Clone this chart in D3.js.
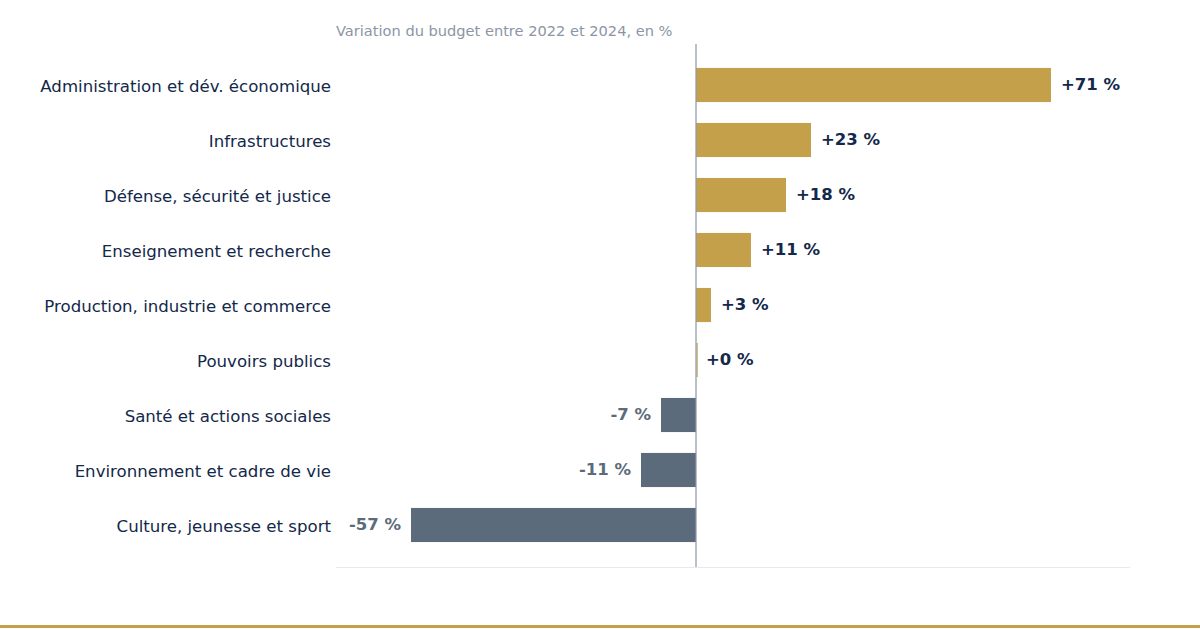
<!DOCTYPE html>
<html>
<head>
<meta charset="utf-8">
<title>Variation du budget</title>
<script src="https://cdn.jsdelivr.net/npm/d3@7"></script>
<style>
  body { margin: 0; background: #fff; }
  svg { display: block; font-family: "DejaVu Sans", sans-serif; }
</style>
</head>
<body>
<svg id="chart" width="1200" height="630"></svg>
<script>
    // data
    var categories = [
        'Administration et dév. économique',
        'Infrastructures',
        'Défense, sécurité et justice',
        'Enseignement et recherche',
        'Production, industrie et commerce',
        'Pouvoirs publics',
        'Santé et actions sociales',
        'Environnement et cadre de vie',
        'Culture, jeunesse et sport'
    ];
    var values = [71, 23, 18, 11, 3, 0, -7, -11, -57];
    var title = 'Variation du budget entre 2022 et 2024, en %';

    var svg = d3.select('#chart');
    var gold = '#c5a04a', slate = '#5c6b7b', navy = '#13284a';

    var x = d3.scaleLinear().domain([-72, 86.8]).range([336, 1130]);
    var y = d3.scaleBand().domain(categories)
        .range([57.5, 552.5]).paddingInner(0.38).paddingOuter(0.19);

    svg.append('text')
        .attr('x', 336).attr('y', 36)
        .attr('font-size', 14.6).attr('fill', '#8c95a5')
        .text(title);

    // bottom baseline
    svg.append('line')
        .attr('x1', 336).attr('x2', 1130).attr('y1', 567.5).attr('y2', 567.5)
        .attr('stroke', '#e8e9ec').attr('stroke-width', 1);

    svg.selectAll('rect.bar')
        .data(values)
        .enter().append('rect')
        .attr('class', 'bar')
        .attr('x', function (d) { return d === 0 ? x(0) + 0.5 : x(Math.min(0, d)); })
        .attr('y', function (d, i) { return y(categories[i]); })
        .attr('width', function (d) { return d === 0 ? 1.2 : Math.abs(x(d) - x(0)); })
        .attr('height', y.bandwidth())
        .attr('fill', function (d) { return d >= 0 ? gold : slate; });

    // zero line
    svg.append('line')
        .attr('x1', x(0)).attr('x2', x(0)).attr('y1', 44).attr('y2', 567)
        .attr('stroke', '#8a96aa').attr('stroke-width', 1.2);

    // category labels
    svg.selectAll('text.cat')
        .data(categories)
        .enter().append('text')
        .attr('class', 'cat')
        .attr('x', 331)
        .attr('y', function (d) { return y(d) + y.bandwidth() / 2 + 1; })
        .attr('dy', '0.35em')
        .attr('text-anchor', 'end')
        .attr('font-size', 16.6)
        .attr('fill', navy)
        .text(function (d) { return d; });

    // value labels
    svg.selectAll('text.val')
        .data(values)
        .enter().append('text')
        .attr('class', 'val')
        .attr('x', function (d) { return d >= 0 ? x(d) + 10 : x(d) - 10; })
        .attr('y', function (d, i) { return y(categories[i]) + y.bandwidth() / 2 - 0.5; })
        .attr('dy', '0.35em')
        .attr('text-anchor', function (d) { return d >= 0 ? 'start' : 'end'; })
        .attr('font-size', 16.5)
        .attr('font-weight', 'bold')
        .attr('fill', function (d) { return d >= 0 ? navy : slate; })
        .text(function (d) { return (d >= 0 ? '+' : '') + d + ' %'; });

    // gold rule at the bottom
    svg.append('line')
        .attr('x1', 0).attr('x2', 1200).attr('y1', 626.5).attr('y2', 626.5)
        .attr('stroke', gold).attr('stroke-width', 3);
</script>
</body>
</html>
